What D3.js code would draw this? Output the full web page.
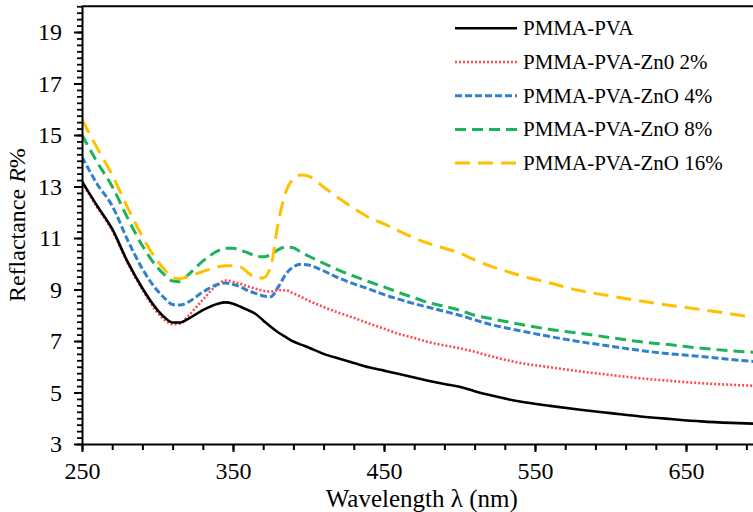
<!DOCTYPE html>
<html>
<head>
<meta charset="utf-8">
<script src="https://cdn.jsdelivr.net/npm/d3@7"></script>
<style>
  html, body { margin: 0; padding: 0; background: #fff; }
  svg { display: block; }
</style>
</head>
<body>
<div id="chart"></div>
<script>
// ---- data ----
const wavelengths = [250,260,270,280,290,300,305,310,315,320,330,340,345,350,355,360,365,370,375,380,385,390,395,400,410,420,430,440,450,460,470,480,490,500,510,520,540,560,580,600,620,640,660,680,700];

const pmmaPva   = [13.2,12.25,11.35,10.1,9.05,8.2,7.9,7.72,7.72,7.85,8.2,8.45,8.5,8.45,8.33,8.2,8.05,7.8,7.55,7.33,7.15,6.98,6.86,6.75,6.5,6.32,6.15,5.98,5.85,5.72,5.58,5.45,5.33,5.22,5.05,4.9,4.65,4.48,4.33,4.2,4.07,3.97,3.88,3.82,3.78];
const zno2      = [13.15,12.2,11.3,10.05,9.0,8.1,7.8,7.65,7.68,7.95,8.6,9.2,9.35,9.3,9.22,9.12,9.03,8.95,8.92,8.97,8.97,8.85,8.72,8.57,8.32,8.1,7.9,7.68,7.48,7.27,7.12,6.95,6.83,6.72,6.58,6.42,6.15,5.98,5.82,5.68,5.55,5.45,5.36,5.3,5.25];
const zno4      = [14.15,13.1,12.25,10.95,9.8,8.95,8.65,8.42,8.4,8.5,8.9,9.2,9.25,9.2,9.1,8.95,8.85,8.75,8.72,9.1,9.6,9.88,9.98,9.95,9.72,9.45,9.22,9.02,8.8,8.62,8.45,8.3,8.15,8.0,7.82,7.65,7.4,7.17,6.97,6.8,6.63,6.5,6.4,6.28,6.18];
const zno8      = [15.0,13.95,13.0,11.8,10.7,9.85,9.55,9.33,9.3,9.55,10.1,10.5,10.6,10.6,10.52,10.42,10.3,10.27,10.35,10.55,10.65,10.62,10.45,10.3,10.02,9.75,9.52,9.3,9.1,8.88,8.68,8.48,8.35,8.2,8.0,7.88,7.65,7.45,7.3,7.13,6.97,6.85,6.72,6.62,6.55];
const zno16     = [15.6,14.5,13.45,12.2,11.05,10.1,9.75,9.45,9.42,9.5,9.7,9.88,9.92,9.92,9.88,9.65,9.45,9.45,9.9,11.6,12.8,13.3,13.45,13.4,12.98,12.55,12.15,11.8,11.55,11.27,11.0,10.78,10.6,10.42,10.15,9.92,9.55,9.25,8.95,8.75,8.55,8.38,8.22,8.05,7.88];

const seriesNames = ["PMMA-PVA", "PMMA-PVA-Zn0 2%", "PMMA-PVA-ZnO 4%", "PMMA-PVA-ZnO 8%", "PMMA-PVA-ZnO 16%"];
const seriesValues = [pmmaPva, zno2, zno4, zno8, zno16];
const seriesColors = ["#000000", "#ff4a4a", "#2f80cf", "#1db35b", "#ffc000"];
const seriesDash = [null, "2,2", "7,3", "11,6", "15,8"];
const seriesWidth = [2.6, 2.6, 3, 3, 3];

const xMajorTicks = [250, 350, 450, 550, 650];
const yMajorTicks = [3, 5, 7, 9, 11, 13, 15, 17, 19];
const xTitle = "Wavelength λ (nm)";

// ---- chart ----
const FONT = "Liberation Serif";
const W = 753, H = 512;
const svg = d3.select("#chart").append("svg").attr("width", W).attr("height", H)
  .style("font-family", FONT);

const x = d3.scaleLinear().domain([250, 700]).range([82, 761.5]);
const y = d3.scaleLinear().domain([3, 20]).range([444, 6.25]);

svg.append("defs").append("clipPath").attr("id", "plotclip")
  .append("rect").attr("x", 82).attr("y", 4).attr("width", W - 82).attr("height", 442);

// top border
svg.append("line").attr("x1", 82).attr("x2", W).attr("y1", y(20)).attr("y2", y(20))
  .attr("stroke", "#000").attr("stroke-width", 2);

// series
const line = d3.line().x(d => x(d[0])).y(d => y(d[1])).curve(d3.curveMonotoneX);
const gLines = svg.append("g").attr("clip-path", "url(#plotclip)");
seriesValues.forEach((vals, i) => {
  const pts = wavelengths.map((w, j) => [w, vals[j]]);
  gLines.append("path").datum(pts)
    .attr("d", line)
    .attr("fill", "none")
    .attr("stroke", seriesColors[i])
    .attr("stroke-width", seriesWidth[i])
    .attr("stroke-dasharray", seriesDash[i])
    .attr("stroke-linejoin", "round");
});
gLines.select("path").raise();

// x axis minor
svg.append("g").attr("transform", `translate(0,${y(3)})`)
  .call(d3.axisBottom(x).tickValues(d3.range(250, 701, 20)).tickSize(6).tickSizeOuter(0).tickFormat(""))
  .call(g => g.select(".domain").remove())
  .call(g => g.selectAll("line").attr("stroke-width", 2));
// x axis major
const gx = svg.append("g").attr("transform", `translate(0,${y(3)})`)
  .call(d3.axisBottom(x).tickValues(xMajorTicks).tickSize(8).tickSizeOuter(0).tickFormat(d3.format("d")));
gx.attr("font-family", null).attr("font-size", null);
gx.select(".domain").attr("stroke-width", 2);
gx.selectAll("line").attr("stroke-width", 2);
gx.selectAll("text").attr("y", 35).attr("dy", 0)
  .style("font-size", "24px").style("font-family", FONT);

// y axis minor
svg.append("g").attr("transform", `translate(${x(250)},0)`)
  .call(d3.axisLeft(y).tickValues(d3.range(3, 20.01, 0.25)).tickSize(5).tickSizeOuter(0).tickFormat(""))
  .call(g => g.select(".domain").remove())
  .call(g => g.selectAll("line").attr("stroke-width", 1.8));
// y axis major
const gy = svg.append("g").attr("transform", `translate(${x(250)},0)`)
  .call(d3.axisLeft(y).tickValues(yMajorTicks).tickSize(8).tickSizeOuter(0).tickFormat(d3.format("d")));
gy.attr("font-family", null).attr("font-size", null);
gy.select(".domain").attr("stroke-width", 2);
gy.selectAll("line").attr("stroke-width", 2);
gy.selectAll("text").attr("x", -20)
  .style("font-size", "24px").style("font-family", FONT);

// axis titles
svg.append("text").attr("x", (x(250) + x(700)) / 2).attr("y", 507)
  .attr("text-anchor", "middle")
  .style("font-size", "25px").style("font-family", FONT).text(xTitle);

const yt = svg.append("text")
  .attr("transform", `translate(25,${(y(3) + y(20)) / 2}) rotate(-90)`)
  .attr("text-anchor", "middle")
  .style("font-size", "24px").style("font-family", FONT);
yt.append("tspan").text("Reflactance ");
yt.append("tspan").style("font-style", "italic").text("R");
yt.append("tspan").text("%");

// legend
const legend = svg.append("g");
seriesNames.forEach((name, i) => {
  const cy = 28.3 + i * 33.7;
  legend.append("line").attr("x1", 455).attr("x2", 517).attr("y1", cy).attr("y2", cy)
    .attr("stroke", seriesColors[i]).attr("stroke-width", seriesWidth[i])
    .attr("stroke-dasharray", seriesDash[i]);
  legend.append("text").attr("x", 523).attr("y", cy + 7)
    .style("font-size", "21px").style("font-family", FONT).text(name);
});
</script>
</body>
</html>
